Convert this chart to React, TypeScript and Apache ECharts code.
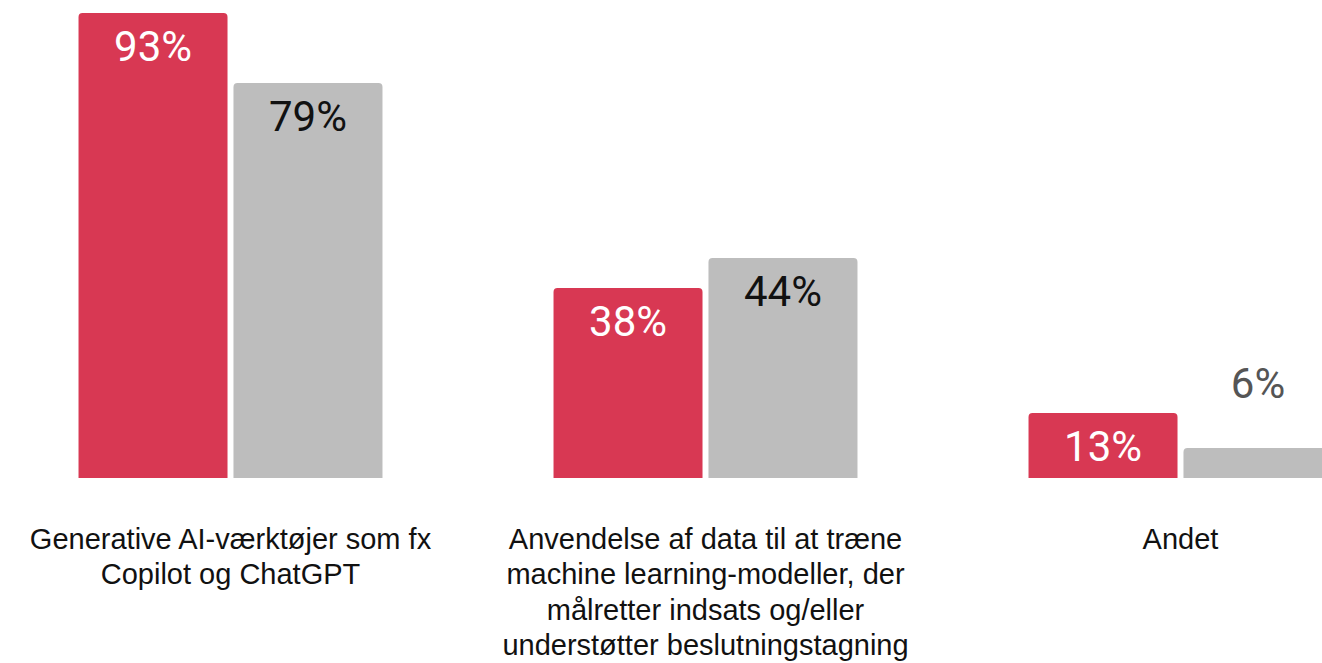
import React, { useEffect, useRef } from "react";
import * as echarts from "echarts";

const categories = [
  "Generative AI-værktøjer som fx\nCopilot og ChatGPT",
  "Anvendelse af data til at træne\nmachine learning-modeller, der\nmålretter indsats og/eller\nunderstøtter beslutningstagning",
  "Andet",
];
const seriesA = [93, 38, 13];
const seriesB = [79, 44, 6];

export default function App() {
  const ref = useRef<HTMLDivElement>(null);
  useEffect(() => {
    if (!ref.current) return;
    const chart = echarts.init(ref.current, null, { renderer: "svg" });
    const labelBase = {
      show: true,
      position: "insideTop",
      distance: 12,
      fontFamily: "Roboto",
      fontSize: 42,
      formatter: "{c}%",
    };
    chart.setOption({
      animation: false,
      grid: { left: 0, right: 0, top: 13, bottom: 182, containLabel: false },
      xAxis: {
        type: "category",
        data: categories,
        axisLine: { show: false },
        axisTick: { show: false },
        axisLabel: {
          interval: 0,
          margin: 43,
          fontFamily: "Liberation Sans, Arial, sans-serif",
          fontSize: 29,
          lineHeight: 35.5,
          color: "#111111",
          verticalAlign: "top",
        },
      },
      yAxis: { type: "value", min: 0, max: 93, show: false, splitLine: { show: false } },
      series: [
        {
          type: "bar",
          data: seriesA,
          barWidth: 149,
          barGap: "4%",
          itemStyle: { color: "#d83853", borderRadius: [4, 4, 0, 0] },
          label: { ...labelBase, color: "#ffffff" },
        },
        {
          type: "bar",
          data: seriesB.map((v) =>
            v < 10
              ? { value: v, label: { position: "top", distance: 44, color: "#555555" } }
              : v
          ),
          barWidth: 149,
          itemStyle: { color: "#bdbdbd", borderRadius: [4, 4, 0, 0] },
          label: { ...labelBase, color: "#111111" },
        },
      ],
    });
    return () => chart.dispose();
  }, []);
  return (
    <div
      style={{
        position: "absolute",
        left: 0,
        top: 0,
        width: 1322,
        height: 663,
        overflow: "hidden",
      }}
    >
      <div
        ref={ref}
        style={{ position: "absolute", left: -7.5, top: 0, width: 1425, height: 663 }}
      />
    </div>
  );
}
